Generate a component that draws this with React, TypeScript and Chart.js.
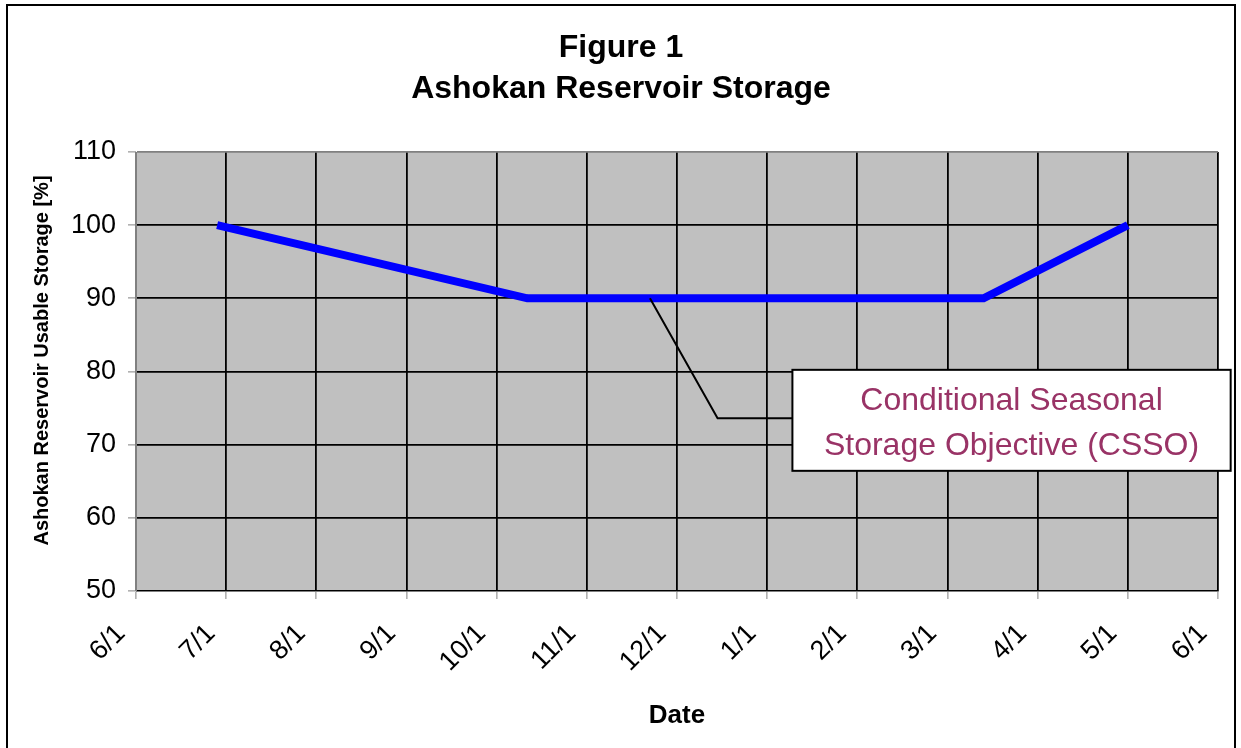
import { useEffect, useRef } from "react";
import { Chart, registerables } from "chart.js";

Chart.register(...registerables);

// Month tick labels (x axis: months since 6/1)
const monthLabels = ["6/1", "7/1", "8/1", "9/1", "10/1", "11/1", "12/1", "1/1", "2/1", "3/1", "4/1", "5/1", "6/1"];
// CSSO curve: x in months after 6/1, y in % usable storage
const cssoX = [0.9, 4.34, 9.4, 11.0];
const cssoY = [100, 90, 90, 100];
// y axis range
const yMin = 50;
const yMax = 110;
const yStep = 10;
// Titles
const titleLines = ["Figure 1", "Ashokan Reservoir Storage"];
const yTitle = "Ashokan Reservoir Usable Storage [%]";
const xTitle = "Date";
// Callout
const calloutLines = ["Conditional Seasonal", "Storage Objective (CSSO)"];
const leaderX = [5.7, 6.45, 7.28];
const leaderY = [90, 73.6, 73.6];

const FONT = '"Liberation Sans", Arial, Helvetica, sans-serif';

export default function App() {
  const ref = useRef<HTMLCanvasElement | null>(null);

  useEffect(() => {
    if (!ref.current) return;
    Chart.defaults.font.family = FONT;
    Chart.defaults.color = "#000";

    const decor = {
      id: "decor",
      beforeDraw(chart: any) {
        const { ctx, chartArea: a } = chart;
        ctx.save();
        ctx.fillStyle = "#fff";
        ctx.fillRect(0, 0, chart.width, chart.height);
        ctx.fillStyle = "#C0C0C0";
        ctx.fillRect(a.left, a.top, a.right - a.left, a.bottom - a.top);
        ctx.restore();
      },
      afterDatasetsDraw(chart: any) {
        const { ctx, scales } = chart;
        const xs = scales.x, ys = scales.y;
        ctx.save();
        // leader line
        ctx.strokeStyle = "#000";
        ctx.lineWidth = 2;
        ctx.beginPath();
        leaderX.forEach((lx, i) => {
          const px = xs.getPixelForValue(lx);
          const py = ys.getPixelForValue(leaderY[i]);
          if (i === 0) ctx.moveTo(px, py);
          else ctx.lineTo(px, py);
        });
        ctx.stroke();
        // callout box
        ctx.font = `32px ${FONT}`;
        const tw = Math.max(...calloutLines.map((t) => ctx.measureText(t).width));
        const bx = xs.getPixelForValue(leaderX[leaderX.length - 1]);
        const cy = ys.getPixelForValue(leaderY[leaderY.length - 1]) + 2;
        const bw = tw + 63;
        const bh = 101;
        const by = cy - bh / 2;
        ctx.fillStyle = "#fff";
        ctx.fillRect(bx, by, bw, bh);
        ctx.strokeStyle = "#000";
        ctx.lineWidth = 2;
        ctx.strokeRect(bx, by, bw, bh);
        ctx.fillStyle = "#993366";
        ctx.textAlign = "center";
        ctx.textBaseline = "middle";
        calloutLines.forEach((t, i) => {
          ctx.fillText(t, bx + bw / 2, cy - 19 + i * 45);
        });
        ctx.restore();
      },
      afterDraw(chart: any) {
        const { ctx, chartArea: a } = chart;
        ctx.save();
        // outer frame
        ctx.strokeStyle = "#000";
        ctx.lineWidth = 2;
        ctx.strokeRect(7, 5, 1228, 760);
        // title
        ctx.fillStyle = "#000";
        ctx.font = `bold 32px ${FONT}`;
        ctx.textAlign = "center";
        ctx.textBaseline = "middle";
        titleLines.forEach((t, i) => ctx.fillText(t, 621, 48 + i * 41));
        // y axis title
        ctx.font = `bold 20px ${FONT}`;
        ctx.translate(42, (a.top + a.bottom) / 2 - 11);
        ctx.rotate(-Math.PI / 2);
        ctx.fillText(yTitle, 0, 0);
        ctx.restore();
      },
    };

    const chart = new Chart(ref.current, {
      type: "line",
      data: {
        datasets: [
          {
            label: "CSSO",
            data: cssoX.map((x, i) => ({ x, y: cssoY[i] })),
            borderColor: "#0000FF",
            borderWidth: 8,
            pointRadius: 0,
            borderCapStyle: "butt",
            borderJoinStyle: "miter",
            tension: 0,
            fill: false,
          },
        ],
      },
      options: {
        animation: false,
        responsive: false,
        devicePixelRatio: 1,
        layout: { padding: { top: 152, right: 23, left: 0, bottom: 0 } },
        plugins: { legend: { display: false }, tooltip: { enabled: false }, title: { display: false } },
        scales: {
          x: {
            type: "linear",
            min: 0,
            max: monthLabels.length - 1,
            afterFit: (s: any) => {
              s.height = 157;
              s.paddingLeft = 0;
              s.paddingRight = 0;
            },
            grid: {
              color: (c: any) => (c.tick && c.tick.value === 0 ? "#808080" : "#000"),
              lineWidth: 1.8,
              tickLength: 8,
              tickColor: "#808080",
              tickWidth: 1,
            },
            border: { display: true, color: "#808080", width: 1 },
            ticks: {
              stepSize: 1,
              autoSkip: false,
              maxRotation: 45,
              minRotation: 45,
              labelOffset: -15,
              padding: 19,
              color: "#000",
              font: { size: 27 },
              callback: (v: any) => monthLabels[Math.round(Number(v))] ?? "",
            },
            title: {
              display: true,
              text: xTitle,
              color: "#000",
              font: { size: 26, weight: "bold" },
              padding: { top: 0, bottom: 17 },
            },
          },
          y: {
            min: yMin,
            max: yMax,
            afterFit: (s: any) => {
              s.width = 136;
              s.paddingTop = 0;
              s.paddingBottom = 0;
            },
            grid: {
              color: (c: any) => (c.tick && c.tick.value === yMax ? "#808080" : "#000"),
              lineWidth: 1.8,
              tickLength: 8,
              tickColor: "#808080",
              tickWidth: 1,
            },
            border: { display: true, color: "#808080", width: 1 },
            ticks: {
              stepSize: yStep,
              padding: 12,
              color: "#000",
              font: { size: 27 },
            },
            title: { display: false },
          },
        },
      },
      plugins: [decor],
    } as any);

    return () => chart.destroy();
  }, []);

  return (
    <div style={{ position: "fixed", left: 0, top: 0, width: 1241, height: 748, background: "#fff" }}>
      <canvas ref={ref} width={1241} height={748} style={{ display: "block" }} />
    </div>
  );
}
